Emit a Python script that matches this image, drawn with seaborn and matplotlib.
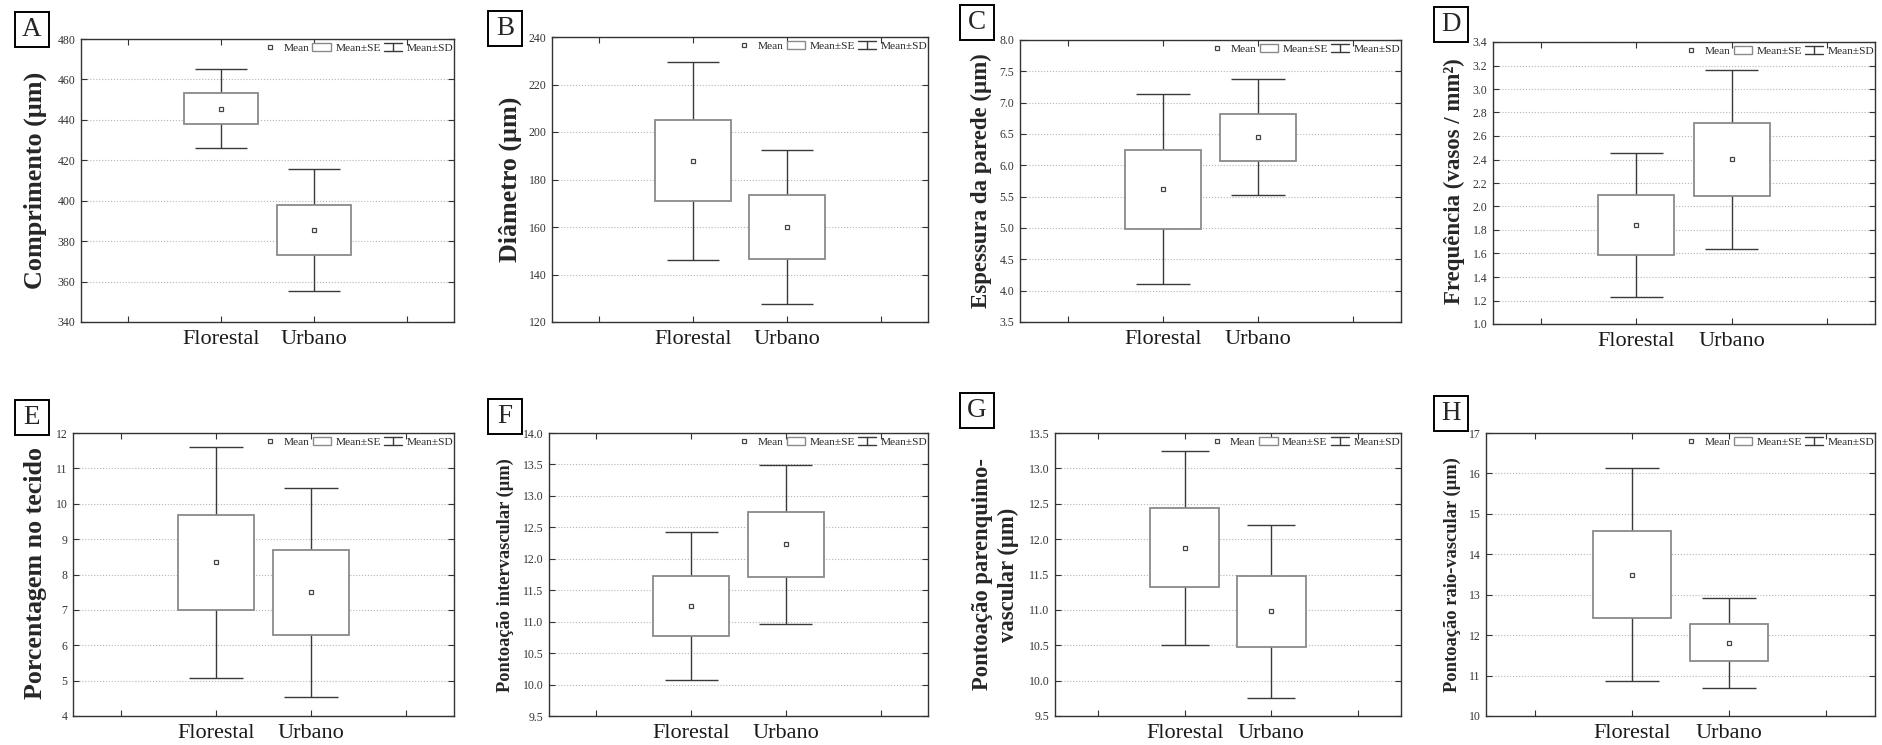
import numpy as np
import pandas as pd
import matplotlib
matplotlib.use('Agg')
import matplotlib.pyplot as plt
from matplotlib.lines import Line2D
from matplotlib.patches import Patch, Rectangle
from matplotlib.legend_handler import HandlerBase
import seaborn as sns

# Dados (média, erro padrão e desvio padrão por ambiente)
grupos = ['Florestal', 'Urbano']
letras = ['A', 'B', 'C', 'D', 'E', 'F', 'G', 'H']
rotulos_y = [
    'Comprimento (µm)',
    'Diâmetro (µm)',
    'Espessura da parede (µm)',
    'Frequência (vasos / mm²)',
    'Porcentagem no tecido',
    'Pontoação intervascular (µm)',
    'Pontoação parenquimo-\nvascular (µm)',
    'Pontoação raio-vascular (µm)',
]
medias = [
    [445.6, 385.5],
    [187.9, 160.0],
    [5.62, 6.45],
    [1.84, 2.40],
    [8.34, 7.50],
    [11.25, 12.23],
    [11.88, 10.98],
    [13.50, 11.81],
]
erros_padrao = [
    [7.8, 12.2],
    [17.0, 13.3],
    [0.63, 0.375],
    [0.254, 0.308],
    [1.34, 1.20],
    [0.475, 0.515],
    [0.555, 0.50],
    [1.065, 0.455],
]
desvios = [
    [19.4, 30.0],
    [41.6, 32.4],
    [1.52, 0.93],
    [0.614, 0.764],
    [3.27, 2.95],
    [1.175, 1.265],
    [1.37, 1.22],
    [2.635, 1.115],
]
limites_y = [(340, 480, 20), (120, 240, 20), (3.5, 8.0, 0.5), (1.0, 3.4, 0.2),
             (4, 12, 1), (9.5, 14.0, 0.5), (9.5, 13.5, 0.5), (10, 17, 1)]
formatos_y = ['{:.0f}', '{:.0f}', '{:.1f}', '{:.1f}', '{:.0f}', '{:.1f}', '{:.1f}', '{:.0f}']

# Layout em pixels (esq, topo, dir, base)
eixos_px = [(81, 39, 454, 322), (552, 37, 928, 322), (1020, 40, 1401, 322), (1493, 42, 1875, 324),
            (73, 433, 454, 716), (549, 433, 928, 716), (1055, 433, 1401, 716), (1486, 433, 1875, 716)]
pos_rotulo = [(-0.123, 0.5), (-0.112, 0.5), (-0.101, 0.501), (-0.102, 0.505),
              (-0.098, 0.504), (-0.116, 0.498), (-0.173, 0.50), (-0.086, 0.5)]
tam_rotulo = [18.8, 18.7, 16.5, 16.5, 18.7, 13.2, 16.3, 13.3]
caixas_letra = [(15, 12), (488, 11), (960, 5), (1434, 7),
                (15, 400), (488, 399), (960, 393), (1434, 396)]

W, H = 1883, 745

sns.set_style('ticks')
plt.rcParams['font.family'] = ['Liberation Serif', 'DejaVu Serif']

COR_CAIXA = '#8a8a8a'
COR_BIGODE = '#3a3a3a'
COR_MEDIA = '#444444'


class HandlerIBeam(HandlerBase):
    """Desenha o símbolo de Mean±SD (barra com as duas tampas)."""
    def create_artists(self, legend, orig_handle, xdescent, ydescent,
                       width, height, fontsize, trans):
        x0, x1 = -xdescent, -xdescent + width
        y0, y1 = -ydescent, -ydescent + height
        xm = (x0 + x1) / 2
        linhas = [Line2D([x0, x1], [y1, y1]), Line2D([x0, x1], [y0, y0]),
                  Line2D([xm, xm], [y0, y1])]
        for ln in linhas:
            ln.set_color(COR_BIGODE)
            ln.set_linewidth(1.0)
            ln.set_transform(trans)
        return linhas


def main():
    fig = plt.figure(figsize=(W / 100, H / 100), dpi=100)

    for i in range(8):
        l, t, r, b = eixos_px[i]
        ax = fig.add_axes([l / W, 1 - b / H, (r - l) / W, (b - t) / H])

        df = pd.DataFrame({'grupo': grupos, 'media': medias[i]})
        x = np.arange(len(grupos))
        m = np.array(medias[i])
        se = np.array(erros_padrao[i])
        sd = np.array(desvios[i])

        # Mean ± SD (bigodes)
        ax.vlines(x, m - sd, m + sd, color=COR_BIGODE, lw=1.0, zorder=2)
        ax.hlines(m + sd, x - 0.28, x + 0.28, color=COR_BIGODE, lw=1.0, zorder=2)
        ax.hlines(m - sd, x - 0.28, x + 0.28, color=COR_BIGODE, lw=1.0, zorder=2)
        # Mean ± SE (caixas)
        ax.bar(x, 2 * se, bottom=m - se, width=0.8, facecolor='white',
               edgecolor=COR_CAIXA, linewidth=1.3, zorder=3)
        # Média
        sns.pointplot(data=df, x='grupo', y='media', ax=ax, errorbar=None,
                      marker='s', linestyle='none', color=COR_MEDIA,
                      markersize=3.5, markerfacecolor='white',
                      markeredgewidth=0.9, zorder=5)

        lo, hi, passo = limites_y[i]
        ticks = np.arange(lo, hi + passo / 2, passo)
        ax.set_ylim(lo, hi)
        ax.set_yticks(ticks)
        ax.set_yticklabels([formatos_y[i].format(v) for v in ticks])
        ax.set_xlim(-1.5, 2.5)
        ax.set_xticks([-1, 0, 1, 2])
        ax.set_xticklabels(['', 'Florestal', 'Urbano', ''])
        ax.set_xlabel('')

        ax.tick_params(direction='in', top=True, right=True, length=4, width=0.8,
                       color='#333333')
        ax.tick_params(axis='y', labelsize=8.5, labelcolor='#333333', pad=4)
        ax.tick_params(axis='x', labelsize=16, labelcolor='#1a1a1a', pad=6)
        for sp in ax.spines.values():
            sp.set_color('#333333')
            sp.set_linewidth(1.0)

        ax.yaxis.grid(True, linestyle=':', color='#b5b5b5', linewidth=0.8)
        ax.xaxis.grid(False)
        ax.set_axisbelow(True)

        ax.set_ylabel(rotulos_y[i], fontsize=tam_rotulo[i], fontweight='bold',
                      va='center', ha='center', linespacing=1.3)
        ax.yaxis.set_label_coords(*pos_rotulo[i])

        h_media = Line2D([], [], marker='s', linestyle='none', markerfacecolor='white',
                         markeredgecolor=COR_MEDIA, markersize=3.5, markeredgewidth=0.9)
        h_se = Patch(facecolor='white', edgecolor=COR_CAIXA, linewidth=1.0)
        h_sd = Line2D([], [])
        ax.legend([h_media, h_se, h_sd], ['Mean', 'Mean±SE', 'Mean±SD'],
                  handler_map={h_sd: HandlerIBeam()}, loc='upper right',
                  bbox_to_anchor=(1.005, 0.995), ncol=3, frameon=False,
                  fontsize=8.2, handlelength=1.6, handleheight=0.8,
                  handletextpad=0.4, columnspacing=0.3, borderaxespad=0,
                  borderpad=0.2)

        # Letra do painel em caixa
        bx, by = caixas_letra[i]
        fig.add_artist(Rectangle((bx / W, 1 - (by + 35) / H), 34 / W, 35 / H,
                                 transform=fig.transFigure, facecolor='white',
                                 edgecolor='black', linewidth=1.4))
        fig.text((bx + 17) / W, 1 - (by + 17.5) / H, letras[i], fontsize=19.5,
                 ha='center', va='center')

    fig.savefig('out.png', dpi=100)
    plt.close(fig)


if __name__ == '__main__':
    main()
